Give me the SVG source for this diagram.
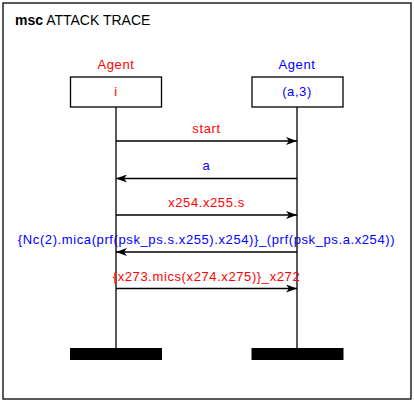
<svg xmlns="http://www.w3.org/2000/svg" width="414" height="402" viewBox="0 0 414 402">
<style>
text{font-family:"Liberation Sans",Arial,sans-serif;font-size:13px;letter-spacing:0.6px;text-anchor:middle}
.r{fill:#ff0000}.b{fill:#0000ff}
.box{fill:#fff;stroke:#000;stroke-width:1.3}
.life{stroke:#000;stroke-width:1.3}
.msg{stroke:#000;stroke-width:1.3;marker-end:url(#ah)}
.bar{fill:#000}
</style>
<defs>
<marker id="ah" markerWidth="12" markerHeight="8" refX="11" refY="4" orient="auto" markerUnits="userSpaceOnUse">
<path d="M0,0 L11,4 L0,8 L3,4 Z" fill="#000"/>
</marker>
</defs>
<rect x="3" y="3" width="408" height="396" fill="#fff" stroke="#000" stroke-width="1.3"/>
<text x="15" y="25" style="text-anchor:start;font-size:14px;letter-spacing:0"><tspan font-weight="bold">msc</tspan> ATTACK TRACE</text>
<g id="agent-i">
<text class="r" x="116" y="69">Agent</text>
<rect class="box" x="70.5" y="77" width="91" height="30"/>
<text class="r" x="116" y="96">i</text>
<line class="life" x1="116" y1="107" x2="116" y2="348"/>
<rect class="bar" x="70" y="348" width="92" height="12"/>
</g>
<g id="agent-a3">
<text class="b" x="297" y="69">Agent</text>
<rect class="box" x="252" y="77" width="91" height="30"/>
<text class="b" x="297" y="96">(a,3)</text>
<line class="life" x1="297" y1="107" x2="297" y2="348"/>
<rect class="bar" x="251.5" y="348" width="92" height="12"/>
</g>
<g id="connectors">
<line class="msg" x1="116" y1="141" x2="297" y2="141"/>
<text class="r" x="206.5" y="133">start</text>
<line class="msg" x1="297" y1="178.5" x2="116" y2="178.5"/>
<text class="b" x="206.5" y="170">a</text>
<line class="msg" x1="116" y1="215" x2="297" y2="215"/>
<text class="r" x="206.5" y="207">x254.x255.s</text>
<line class="msg" x1="297" y1="252" x2="116" y2="252"/>
<text class="b" x="206.5" y="244">{Nc(2).mica(prf(psk_ps.s.x255).x254)}_(prf(psk_ps.a.x254))</text>
<line class="msg" x1="116" y1="288.5" x2="297" y2="288.5"/>
<text class="r" x="206.5" y="281">{x273.mics(x274.x275)}_x272</text>
</g>
</svg>
